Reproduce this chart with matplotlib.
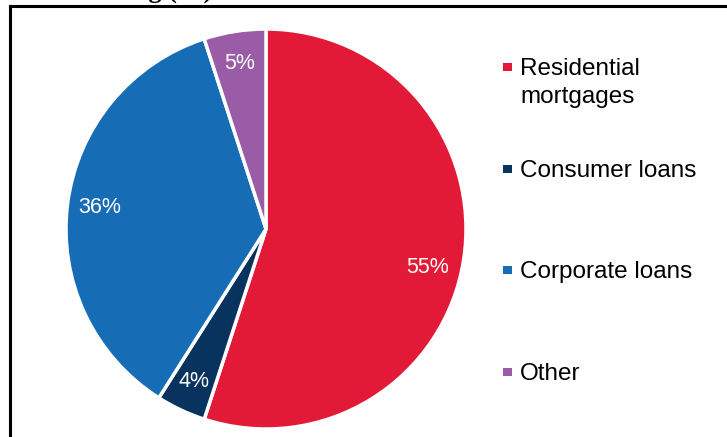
import numpy as np
import matplotlib
matplotlib.use("Agg")
import matplotlib.pyplot as plt
from matplotlib.lines import Line2D
from matplotlib.patches import Rectangle

title = "Gross lending (%)"
categories = ["Residential\nmortgages", "Consumer loans", "Corporate loans", "Other"]
values = [55, 4, 36, 5]
colors = ["#E31A37", "#08335F", "#176CB6", "#9A5CA7"]

W, H = 727, 437
fig = plt.figure(figsize=(W / 100, H / 100), dpi=100)
fig.patch.set_facecolor("white")

def fx(px):
    return px / W

def fy(py):
    return 1 - py / H

# pie axes: centre (266, 229) px, radius 200 px
cx, cy, r = 266, 229, 200
ax = fig.add_axes([fx(cx - r), fy(cy + r), 2 * r / W, 2 * r / H])
wedges, texts = ax.pie(
    values,
    colors=colors,
    startangle=90,
    counterclock=False,
    labels=[f"{v}%" for v in values],
    labeldistance=0.84,
    wedgeprops=dict(edgecolor="white", linewidth=2.5),
    textprops=dict(color="white", fontsize=15.5, family="Liberation Sans"),
)
for t in texts:
    t.set_ha("center")
    t.set_va("center")
# the largest label sits a little below its wedge's mid-angle in the reference
t0 = texts[0]
ang = np.deg2rad(90 - 103.5)
t0.set_position((0.83 * np.cos(ang), 0.83 * np.sin(ang)))
ax.set_xlim(-1, 1)
ax.set_ylim(-1, 1)
ax.set_aspect("auto")
ax.axis("off")
for w in wedges:
    w.set_clip_on(False)

# legend (manual, square markers)
leg_baselines = [75, 177, 278, 380]
line_gap = 28
for lab, col, base in zip(categories, colors, leg_baselines):
    lines = lab.split("\n")
    for i, ln in enumerate(lines):
        fig.text(fx(520), fy(base + i * line_gap), ln, fontsize=17.5,
                 family="Liberation Sans", color="black", va="baseline", ha="left")
    fig.patches.append(Rectangle((fx(503), fy(base - 4)), 9 / W, 8 / H,
                                 transform=fig.transFigure, facecolor=col,
                                 edgecolor="none"))

# frame lines (top and left)
fig.add_artist(Line2D([fx(10), fx(10)], [fy(6), 0], color="black", linewidth=2.2,
                      transform=fig.transFigure))
fig.add_artist(Line2D([fx(10), 1], [fy(6), fy(6)], color="black", linewidth=2.2,
                      transform=fig.transFigure))

# title, cut off at the top edge as in the reference
fig.text(fx(6), fy(-2), title, fontsize=19, family="Liberation Serif",
         fontweight="bold", va="baseline", ha="left")

fig.savefig("out.png", dpi=100)
